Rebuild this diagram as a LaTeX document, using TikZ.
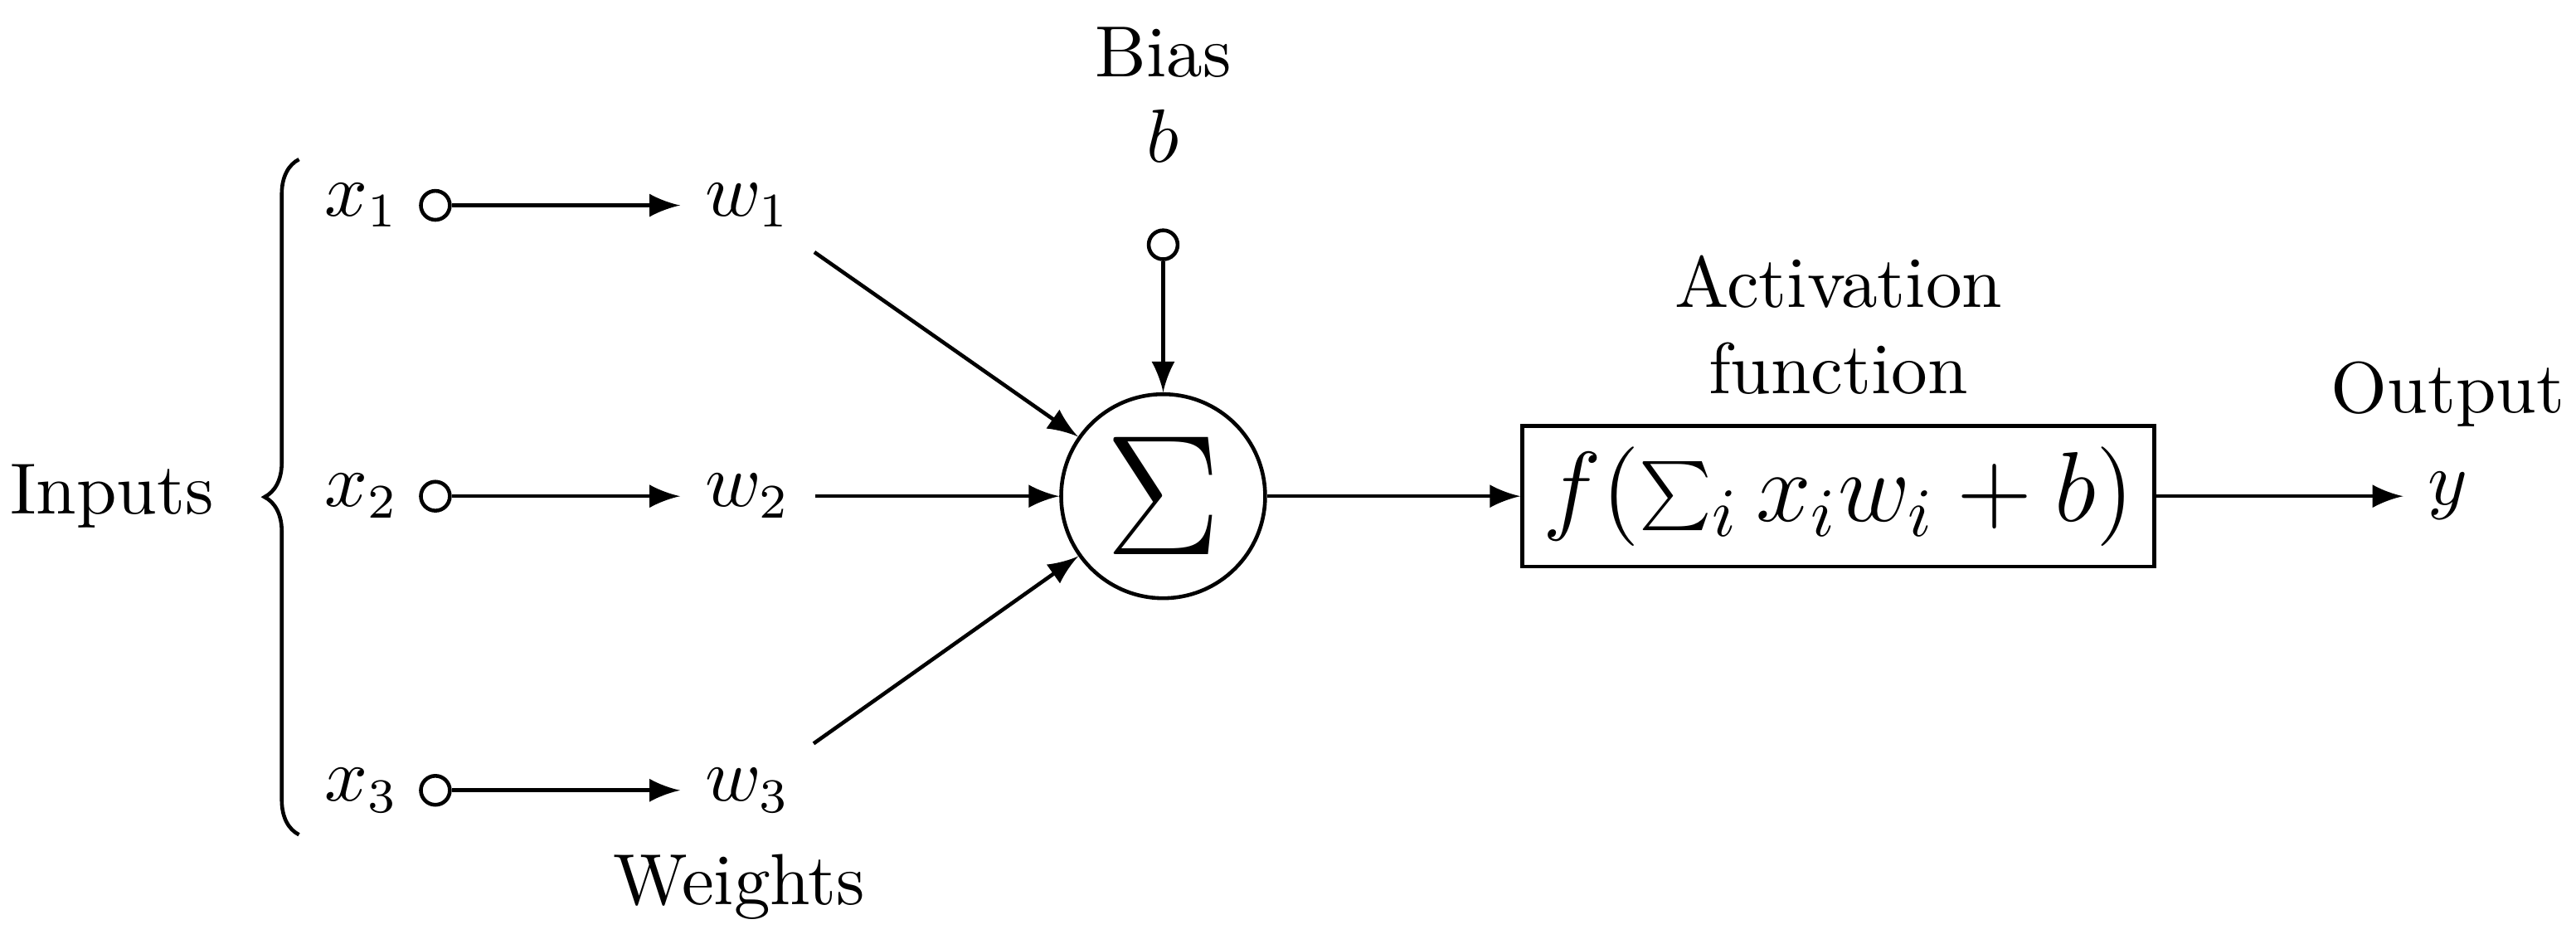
\documentclass[tikz,border=0pt]{standalone}
\usetikzlibrary{decorations.pathreplacing,arrows}
\begin{document}
\begin{tikzpicture}[x=0.00837cm,y=-0.00837cm,line width=0.55pt,
  arr/.style={-latex},
  every node/.style={font=\fontsize{10.5}{12.5}\selectfont},
  port/.style={draw,circle,inner sep=0pt,minimum size=4.2pt,fill=white}]
\useasboundingbox (0,0) rectangle (1568,571);
\node (inputs) at (68,302) {Inputs};
\draw[decorate,decoration={brace,amplitude=5pt}] (182,508) -- (182,97);
\foreach \i/\y in {1/125,2/302,3/481}{
  \node (x\i) at (220,\y) {$x_\i$};
  \node[port] (p\i) at (265,\y) {};
  \node (w\i) at (455,\y) {$w_\i$};
  \draw[arr] (p\i) -- (w\i);
}
\node[draw,circle,inner sep=0pt,minimum size=1.04cm,font=\Huge] (sigma) at (708,302) {$\displaystyle\Sigma$};
\node[port] (bp) at (708,149) {};
\node (b) at (708,83) {$b$};
\node (bias) at (708,32) {Bias};
\draw[arr] (bp) -- (sigma);
\draw[arr] (w1) -- (sigma);
\draw[arr] (w2) -- (sigma);
\draw[arr] (w3) -- (sigma);
\node[draw,inner sep=3pt,font=\Large] (f) at (1119,302) {$f(\sum_i x_iw_i+b)$};
\node[align=center,anchor=south] (act) at (1119,255) {Activation\\function};
\draw[arr] (sigma) -- (f);
\node (y) at (1490,302) {$y$};
\node (out) at (1490,240) {Output};
\draw[arr] (f) -- (y);
\node (weights) at (450,540) {Weights};
\end{tikzpicture}
\end{document}
